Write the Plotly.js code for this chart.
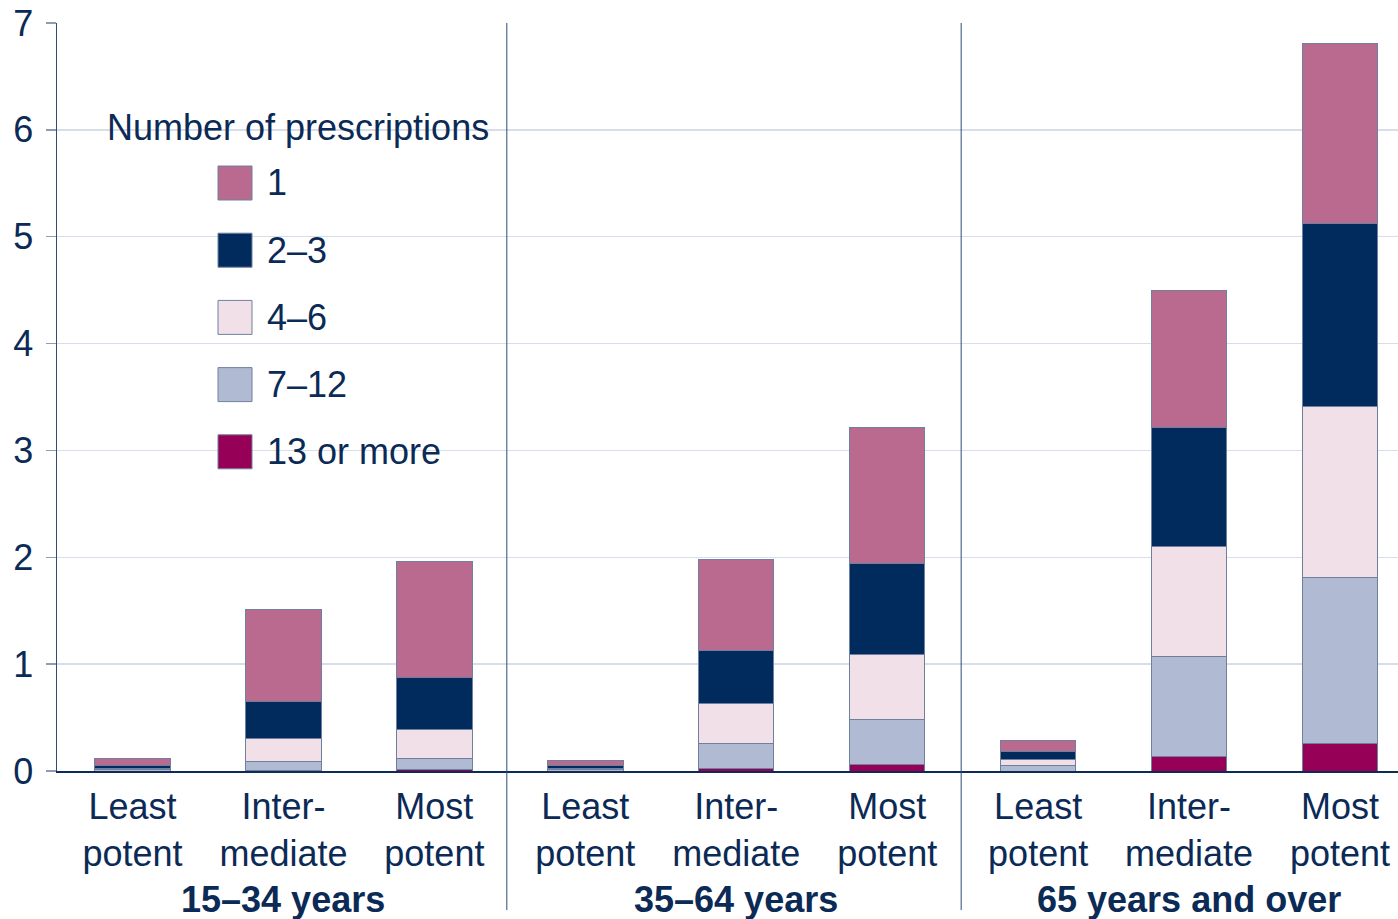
<!DOCTYPE html>
<html>
<head>
<meta charset="utf-8">
<script src="https://cdn.plot.ly/plotly-3.0.1.min.js"></script>
<style>html,body{margin:0;padding:0;background:#fff;}#chart{width:1398px;height:919px;}</style>
</head>
<body>
<div id="chart"></div>
<script>
// ---- data ----
const groups = ["15–34 years", "35–64 years", "65 years and over"];
const potency = ["Least<br>potent", "Inter-<br>mediate", "Most<br>potent"];
const seriesNames = ["13 or more", "7–12", "4–6", "2–3", "1"];
const seriesColors = ["#960056", "#B1BAD3", "#F1E0E8", "#002B5C", "#BA6A8F"];
// values per bar (order: 15–34 least, inter, most; 35–64 ...; 65+ ...)
const s13plus = [0.000, 0.005, 0.015, 0.000, 0.020, 0.063, 0.000, 0.134, 0.262];
const s7to12  = [0.015, 0.085, 0.105, 0.015, 0.240, 0.417, 0.056, 0.935, 1.553];
const s4to6   = [0.005, 0.210, 0.265, 0.005, 0.370, 0.610, 0.053, 1.030, 1.600];
const s2to3   = [0.030, 0.355, 0.490, 0.030, 0.500, 0.850, 0.078, 1.120, 1.710];
const s1      = [0.065, 0.855, 1.090, 0.050, 0.850, 1.270, 0.096, 1.280, 1.680];
const yTicks = [0, 1, 2, 3, 4, 5, 6, 7];
const legendTitle = "Number of prescriptions";

const seriesValues = [s13plus, s7to12, s4to6, s2to3, s1];
const tickText = [];
groups.forEach(() => potency.forEach(p => tickText.push(p)));
const xIdx = tickText.map((_, i) => i);

const textColor = "#0B2A55";
const fontFam = "Liberation Sans, Arial, sans-serif";

const traces = seriesValues.map((vals, k) => ({
  type: "bar",
  name: seriesNames[k],
  x: xIdx,
  y: vals,
  width: 0.5,
  marker: {color: seriesColors[k], line: {color: "#6F809F", width: 1}},
  hoverinfo: "name+y",
  showlegend: false
}));

// pixel helpers for legend placement
const W = 1398, H = 919, mL = 57, mR = 0, mT = 23, mB = 148;
const pw = W - mL - mR, ph = H - mT - mB;
const px = v => (v - mL) / pw;
const py = v => (H - mB - v) / ph;

const shapes = [];
const annotations = [];
// group separators
[2.48, 5.49].forEach(xv => shapes.push({
  type: "line", xref: "x", yref: "paper", x0: xv, x1: xv, y0: -0.186, y1: 1,
  line: {color: "#2E4A75", width: 1}, layer: "above"
}));
// legend background
shapes.push({type: "rect", xref: "paper", yref: "paper",
  x0: px(95), x1: px(492), y0: py(475), y1: py(100),
  fillcolor: "#ffffff", line: {width: 0}, layer: "between"});
annotations.push({xref: "paper", yref: "paper", x: px(105), y: py(127),
  xanchor: "left", yanchor: "middle", text: legendTitle, showarrow: false,
  font: {family: fontFam, size: 36, color: textColor}});
// legend items top-down: 1, 2–3, 4–6, 7–12, 13 or more
const legOrder = [4, 3, 2, 1, 0];
legOrder.forEach((k, i) => {
  const cy = 183 + i * 67.2;
  shapes.push({type: "rect", xref: "paper", yref: "paper",
    x0: px(218), x1: px(252), y0: py(cy + 17), y1: py(cy - 17),
    fillcolor: seriesColors[k], line: {color: "#6F809F", width: 1}, layer: "above"});
  annotations.push({xref: "paper", yref: "paper", x: px(265), y: py(cy),
    xanchor: "left", yanchor: "middle", text: seriesNames[k], showarrow: false,
    font: {family: fontFam, size: 36, color: textColor}});
});
// group labels
groups.forEach((g, i) => annotations.push({
  xref: "x", yref: "paper", x: i * 3 + 1, y: py(899), xanchor: "center", yanchor: "middle",
  text: "<b>" + g + "</b>", showarrow: false,
  font: {family: fontFam, size: 36, color: textColor}
}));

const layout = {
  width: W, height: H,
  margin: {l: mL, r: mR, t: mT, b: mB, pad: 0},
  paper_bgcolor: "#ffffff", plot_bgcolor: "#ffffff",
  barmode: "stack",
  showlegend: false,
  font: {family: fontFam, size: 36, color: textColor},
  xaxis: {
    range: [-0.5, 8.384], tickvals: xIdx, ticktext: tickText,
    showgrid: false, zeroline: false, showline: true, linecolor: "#0D2B57", linewidth: 2,
    ticks: "", ticklabelstandoff: 3,
    tickfont: {family: fontFam, size: 36, color: textColor}, fixedrange: true
  },
  yaxis: {
    range: [0, 7], tickvals: yTicks, showgrid: true, gridcolor: "#D8DDEA", gridwidth: 1.5,
    zeroline: false, showline: true, linecolor: "#2E4A75", linewidth: 1.5,
    ticks: "outside", ticklen: 10, tickcolor: "#8E9BB5", tickwidth: 1.5, ticklabelstandoff: 5,
    tickfont: {family: fontFam, size: 36, color: textColor}, fixedrange: true
  },
  shapes: shapes,
  annotations: annotations
};

Plotly.newPlot("chart", traces, layout, {displayModeBar: false, staticPlot: true});
</script>
</body>
</html>
